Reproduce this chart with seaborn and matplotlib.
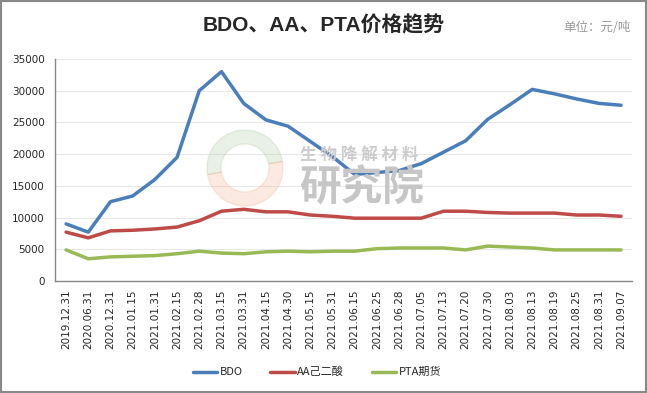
import matplotlib
matplotlib.use("Agg")
import matplotlib.pyplot as plt
import seaborn as sns
import pandas as pd
from matplotlib.patches import Rectangle, Wedge

dates = ['2019.12.31', '2020.06.31', '2020.12.31', '2021.01.15', '2021.01.31',
         '2021.02.15', '2021.02.28', '2021.03.15', '2021.03.31', '2021.04.15',
         '2021.04.30', '2021.05.15', '2021.05.31', '2021.06.15', '2021.06.25',
         '2021.06.28', '2021.07.05', '2021.07.13', '2021.07.20', '2021.07.30',
         '2021.08.03', '2021.08.13', '2021.08.19', '2021.08.25', '2021.08.31',
         '2021.09.07']
bdo = [9000, 7700, 12500, 13400, 16000, 19500, 30000, 33000, 28000, 25400,
       24400, 22000, 19600, 16800, 17100, 17400, 18500, 20300, 22100, 25500,
       27800, 30200, 29500, 28700, 28000, 27700]
aa = [7700, 6800, 7900, 8000, 8200, 8500, 9500, 11000, 11300, 10900,
      10900, 10400, 10200, 9900, 9900, 9900, 9900, 11000, 11000, 10800,
      10700, 10700, 10700, 10400, 10400, 10200]
pta = [4900, 3500, 3800, 3900, 4000, 4300, 4700, 4400, 4300, 4600,
       4700, 4600, 4700, 4700, 5100, 5200, 5200, 5200, 4900, 5500,
       5350, 5200, 4900, 4900, 4900, 4900]
series_names = ['BDO', 'AA己二酸', 'PTA期货']
colors = ['#4A7EBB', '#BE4B48', '#98B954']

sns.set_style('white')
plt.rcParams['font.family'] = ['Noto Sans CJK SC', 'DejaVu Sans']

df = pd.DataFrame({'date': dates * 3,
                   'idx': list(range(len(dates))) * 3,
                   'price': bdo + aa + pta,
                   'series': [n for n in series_names for _ in dates]})

fig = plt.figure(figsize=(6.47, 3.93), dpi=100)
ax = fig.add_axes([0.085, 0.285, 0.892, 0.565])

# watermark: logo ring + text
fig.patches.append(Wedge((245, 393 - 168), 38, 10, 190, width=14,
                         transform=None, color='#a9c79a', alpha=0.25, zorder=0))
fig.patches.append(Wedge((245, 393 - 168), 38, 190, 370, width=14,
                         transform=None, color='#f0a37a', alpha=0.22, zorder=0))
fig.text(0.464, 0.607, '生 物 降 解 材 料', fontsize=12, color='#cccccc',
         fontweight='bold', va='center', zorder=0)
fig.text(0.462, 0.52, '研究院', fontsize=30, color='#c6c6c6',
         fontweight='bold', va='center', zorder=0)

sns.lineplot(data=df, x='idx', y='price', hue='series', palette=colors,
             linewidth=2.5, ax=ax, sort=False, legend=False)
ax.patch.set_alpha(0)

ax.set_xlim(-0.5, len(dates) - 0.5)
ax.set_ylim(0, 35000)
ax.set_yticks(range(0, 35001, 5000))
ax.set_xticks(range(len(dates)))
ax.set_xticklabels(dates, rotation=90, fontsize=7.5, family='DejaVu Sans')
ax.set_xticks([i - 0.5 for i in range(len(dates) + 1)], minor=True)
ax.tick_params(axis='x', which='major', length=0, pad=6)
ax.tick_params(axis='x', which='minor', length=4, color='#888888')
ax.tick_params(axis='y', length=4, color='#888888', labelsize=7.5)
for t in ax.get_yticklabels():
    t.set_family('DejaVu Sans')
ax.grid(axis='y', color='#e8e8e8', linewidth=0.8)
ax.set_xlabel('')
ax.set_ylabel('')
for s in ['top', 'right']:
    ax.spines[s].set_visible(False)
for s in ['left', 'bottom']:
    ax.spines[s].set_color('#888888')
    ax.spines[s].set_linewidth(1)

handles = [plt.Line2D([], [], color=c, linewidth=2.5) for c in colors]
fig.legend(handles, series_names, loc='center', bbox_to_anchor=(0.49, 0.053),
           ncol=3, frameon=False, fontsize=8, handlelength=2.2,
           handletextpad=0.2, columnspacing=2.5)

fig.text(0.5, 0.935, 'BDO、AA、PTA价格趋势', ha='center', va='center',
         fontsize=15, fontweight='bold', family=['Liberation Sans', 'Noto Sans CJK SC'])
fig.text(0.975, 0.93, '单位：元/吨', ha='right', va='center', fontsize=9,
         color='#999999')

fig.patches.append(Rectangle((0.002, 0.002), 0.996, 0.996, transform=fig.transFigure,
                             fill=False, edgecolor='#888888', linewidth=1.5))

fig.savefig('out.png', dpi=100)
